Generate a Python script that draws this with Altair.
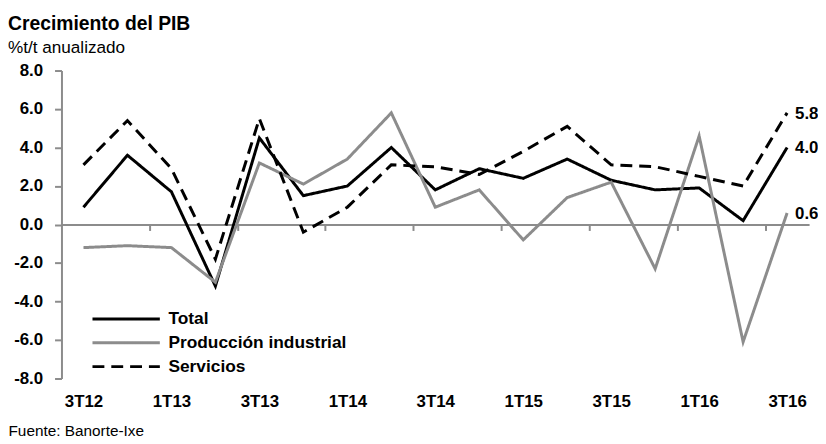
import json
import altair as alt
import pandas as pd

quarters = ["3T12", "4T12", "1T13", "2T13", "3T13", "4T13", "1T14", "2T14", "3T14",
            "4T14", "1T15", "2T15", "3T15", "4T15", "1T16", "2T16", "3T16"]
total = [0.9, 3.6, 1.7, -3.2, 4.5, 1.5, 2.0, 4.0, 1.8, 2.9, 2.4, 3.4, 2.3, 1.8, 1.9, 0.2, 4.0]
industrial = [-1.2, -1.1, -1.2, -3.0, 3.2, 2.1, 3.4, 5.8, 0.9, 1.8, -0.8, 1.4, 2.2, -2.3, 4.6, -6.1, 0.6]
servicios = [3.1, 5.4, 2.9, -1.8, 5.5, -0.4, 0.9, 3.1, 3.0, 2.6, 3.8, 5.1, 3.1, 3.0, 2.5, 2.0, 5.8]
series_names = ["Total", "Producción industrial", "Servicios"]
series_colors = ["#000000", "#8c8c8c", "#000000"]
series_dash = [[1, 0], [1, 0], [12, 7]]
y_ticks = [-8, -6, -4, -2, 0, 2, 4, 6, 8]

rows = []
for name, vals in zip(series_names, [total, industrial, servicios]):
    for i, (q, v) in enumerate(zip(quarters, vals)):
        rows.append({"i": i, "quarter": q, "serie": name, "valor": v})
df = pd.DataFrame(rows)

W, H = 755, 311
FONT = "Liberation Sans, Arial, sans-serif"
n = len(quarters)
label_values = list(range(0, n, 2))
tick_values = [k + 0.5 for k in range(1, n - 1, 2)]
label_expr = "datum.value % 1 == 0 ? " + json.dumps(quarters) + "[datum.value] : ''"

x_enc = alt.X(
    "i:Q",
    scale=alt.Scale(domain=[-0.5, n - 0.5], nice=False, zero=False),
    axis=alt.Axis(
        values=label_values + tick_values, labelExpr=label_expr, grid=False,
        offset=-H / 2, domainColor="#8c8c8c", domainWidth=2,
        tickColor="#8c8c8c", tickWidth=2, tickSize=6,
        tickOpacity={"condition": {"test": "datum.value % 1 == 0", "value": 0}, "value": 1},
        labelPadding=165, labelFont=FONT, labelFontSize=17, labelFontWeight="bold",
        labelColor="black", labelOverlap=False, labelFlush=False,
        title="Fuente: Banorte-Ixe", titleX=-54, titleY=213, titleAlign="left",
        titleBaseline="alphabetic", titleAnchor="start", titleFont=FONT,
        titleFontSize=15.5, titleFontWeight="normal", titleColor="black",
    ),
)
y_enc = alt.Y(
    "valor:Q",
    scale=alt.Scale(domain=[-8, 8], nice=False),
    axis=alt.Axis(
        values=y_ticks, tickCount=len(y_ticks),
        labelExpr="replace(format(datum.value, '.1f'), '\u2212', '-')",
        grid=False, domainColor="#8c8c8c", domainWidth=2, tickColor="#8c8c8c",
        tickWidth=2, tickSize=7, labelPadding=12, labelFont=FONT, labelFontSize=17,
        labelFontWeight="bold", labelColor="black", labelOverlap=False, title=None,
    ),
)

legend_kw = dict(
    orient="none", legendX=75, legendY=238, title=None, symbolType="M-5,0H1",
    symbolSize=514, symbolStrokeWidth=3, labelFont=FONT, labelFontSize=17.5,
    labelFontWeight="bold", labelColor="black", labelOffset=7, labelLimit=400,
    rowPadding=2, padding=0,
)

lines = alt.Chart(df).mark_line(strokeWidth=3).encode(
    x=x_enc,
    y=y_enc,
    color=alt.Color("serie:N", sort=series_names,
                    scale=alt.Scale(domain=series_names, range=series_colors),
                    legend=alt.Legend(**legend_kw)),
    strokeDash=alt.StrokeDash("serie:N", sort=series_names,
                              scale=alt.Scale(domain=series_names, range=series_dash),
                              legend=alt.Legend(**legend_kw)),
)

labels = alt.Chart(df).mark_text(
    align="left", baseline="middle", dx=8, dy=1, font=FONT, fontSize=17,
    fontWeight="bold", color="black",
).encode(
    x=x_enc, y=y_enc, text=alt.Text("valor:Q", format=".1f"),
).transform_filter(alt.datum.i == n - 1)

chart = alt.layer(lines, labels).properties(
    width=W, height=H,
    title=alt.TitleParams(
        text="Crecimiento del PIB", subtitle="%t/t anualizado", anchor="start",
        frame="group", dx=-54, font=FONT, fontSize=19.5, fontWeight="bold", color="black",
        subtitleFont=FONT, subtitleFontSize=17.3, subtitleColor="black", subtitlePadding=5,
    ),
    autosize=alt.AutoSizeParams(type="none"),
    padding={"left": 54, "top": 61, "right": 9, "bottom": 64},
).configure_view(stroke=None)

chart.save("out.html", embed_options={"renderer": "svg", "actions": False})
